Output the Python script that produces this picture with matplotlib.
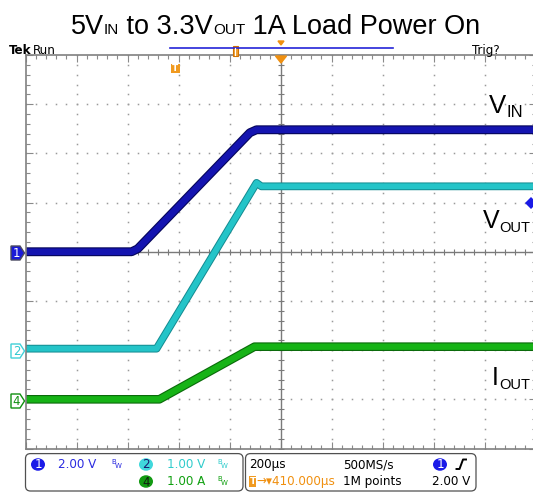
import numpy as np
import matplotlib
matplotlib.use('Agg')
import matplotlib.pyplot as plt
from matplotlib import font_manager
from matplotlib.patches import Polygon, Ellipse, FancyBboxPatch, Rectangle
from matplotlib.ticker import MultipleLocator
import matplotlib.patheffects as pe

# scope setup: 200 us/div, 10 div across, 8 div high
t_per_div = 200.0
ch1_scale, ch2_scale, ch4_scale = 2.0, 1.0, 1.0   # V/div, V/div, A/div
ch1_off, ch2_off, ch4_off = 0.0, -1.97, -3.0      # ground position in div

# traces, time in us from screen centre
t_vin = [-1000, -584, -560, -120, -94, 1000]
v_vin = [0.0, 0.0, 0.12, 4.84, 4.96, 4.96]
t_vout = [-1000, -486, -94, -75, 1000]
v_vout = [0.0, 0.0, 3.37, 3.30, 3.30]
t_iout = [-1000, -475, -102, 1000]
i_iout = [0.0, 0.0, 1.07, 1.07]

# readouts
ch_labels = ['2.00 V', '1.00 V', '1.00 A']
timebase = '200µs'
sample_rate = '500MS/s'
trig_pos = '→▾410.000µs'
record_len = '1M points'
trig_level = '2.00 V'

names = {f.name for f in font_manager.fontManager.ttflist}
narrow = 'Liberation Sans Narrow' if 'Liberation Sans Narrow' in names else 'Liberation Sans'
has_cond = any('Condensed' in f.fname and 'DejaVuSans' in f.fname
               for f in font_manager.fontManager.ttflist)
stat_kw = dict(family='DejaVu Sans', fontstretch='condensed', size=9.5) if has_cond \
    else dict(family='DejaVu Sans', size=8.3)

W, H = 533, 496
fig = plt.figure(figsize=(W / 100, H / 100), dpi=100)
fig.patch.set_facecolor('white')

# scope graticule
ax = fig.add_axes([25.5 / W, 47.5 / H, 510 / W, 393.5 / H])
ax.set_xlim(-5 * t_per_div, 5 * t_per_div)
ax.set_ylim(-4, 4)
ax.xaxis.set_major_locator(MultipleLocator(t_per_div))
ax.xaxis.set_minor_locator(MultipleLocator(t_per_div / 5))
ax.yaxis.set_major_locator(MultipleLocator(1))
ax.yaxis.set_minor_locator(MultipleLocator(0.2))
ax.tick_params(which='both', direction='in', top=True, right=True,
               labelbottom=False, labelleft=False, color='#8a8a8a', width=0.8)
ax.tick_params(which='major', length=5)
ax.tick_params(which='minor', length=3)
for s in ax.spines.values():
    s.set_color('#808080')
    s.set_linewidth(1.2)

gx, gy = [], []
ys = np.arange(-4, 4.001, 0.2)
for k in range(-4, 5):
    if k == 0:
        continue
    gx += [k * t_per_div] * len(ys)
    gy += list(ys)
xs = np.arange(-1000, 1000.1, t_per_div / 5)
for k in range(-3, 4):
    if k == 0:
        continue
    gx += list(xs)
    gy += [k] * len(xs)
ax.plot(gx, gy, ls='none', marker='s', ms=1.1, color='#9a9a9a', mew=0)

ax.axhline(0, color='#7a7a7a', lw=1.0)
ax.axvline(0, color='#7a7a7a', lw=1.0)
ax.plot(xs, np.zeros_like(xs), ls='none', marker='|', ms=5, color='#7a7a7a', mew=0.8)
ax.plot(np.zeros_like(ys), ys, ls='none', marker='_', ms=5, color='#7a7a7a', mew=0.8)


def to_div(vals, scale, off):
    return np.array(vals) / scale + off


ax.plot(t_iout, to_div(i_iout, ch4_scale, ch4_off), color='#16b316', lw=4.6,
        solid_joinstyle='round',
        path_effects=[pe.Stroke(linewidth=6.2, foreground='#0a6a0a'), pe.Normal()])
ax.plot(t_vout, to_div(v_vout, ch2_scale, ch2_off), color='#24c4c8', lw=4.2,
        solid_joinstyle='round',
        path_effects=[pe.Stroke(linewidth=5.6, foreground='#138a90'), pe.Normal()])
ax.plot(t_vin, to_div(v_vin, ch1_scale, ch1_off), color='#1414b0', lw=4.8,
        solid_joinstyle='round',
        path_effects=[pe.Stroke(linewidth=6.4, foreground='#05055a'), pe.Normal()])

# overlay in pixel units for the screen furniture
ov = fig.add_axes([0, 0, 1, 1], facecolor='none')
ov.set_xlim(0, W)
ov.set_ylim(H, 0)
ov.axis('off')

renderer = fig.canvas.get_renderer()


def runs(x, y, parts, ha='center', family='Liberation Sans', color='black'):
    objs = []
    for txt, size, dy in parts:
        t = ov.text(0, y + dy, txt, fontsize=size, family=family, color=color,
                    va='baseline', ha='left')
        objs.append(t)
    widths = [o.get_window_extent(renderer).width for o in objs]
    x0 = x - sum(widths) / 2 if ha == 'center' else x
    for o, w in zip(objs, widths):
        o.set_x(x0)
        x0 += w


runs(275.5, 34, [('5V', 19.5, 0), ('IN', 11, 0), (' to 3.3V', 19.5, 0),
                 ('OUT', 11, 0), (' 1A Load Power On', 19.5, 0)])

runs(489, 113, [('V', 18.5, 0), ('IN', 12, 4)], ha='left', family=narrow)
runs(482.5, 228, [('V', 18, 0), ('OUT', 10.5, 4)], ha='left', family=narrow)
runs(492, 385, [('I', 18, 0), ('OUT', 10.5, 4)], ha='left', family=narrow)

# header
ov.text(9, 54, 'Tek', fontsize=9.5, weight='bold', family='DejaVu Sans',
        fontstretch='condensed', va='baseline')
ov.text(33, 54, 'Run', va='baseline', **stat_kw)
ov.text(472, 54, 'Trig?', va='baseline', **stat_kw)
ov.plot([170, 393], [48.3, 48.3], color='#2424d8', lw=1.2)
ov.add_patch(Rectangle((232.5, 46), 5, 10, facecolor='#f0a030', edgecolor='#d07000', lw=0.8))
ov.plot([235, 235], [47.5, 54.5], color='white', lw=0.8)
ov.add_patch(Polygon([[278, 41], [284, 41], [281, 45]], color='#f09010'))
ov.add_patch(Polygon([[275.5, 56], [286.5, 56], [281, 63]], color='#f09010'))
ov.add_patch(Rectangle((171, 64), 9, 9, facecolor='#f09a20', edgecolor='none'))
ov.text(175.5, 68.8, 'T', fontsize=6.5, weight='bold', color='white', ha='center', va='center')

# trigger level marker
ov.plot([531], [203], marker='D', ms=6, color='#1a1ae6', mew=0)

# channel ground tags


def tag(yc, num, face, edge, txtc):
    pts = [[11, yc - 7], [20, yc - 7], [24.5, yc], [20, yc + 7], [11, yc + 7]]
    ov.add_patch(Polygon(pts, closed=True, facecolor=face, edgecolor=edge, lw=1.0, zorder=5))
    ov.text(16.5, yc + 0.5, num, fontsize=8.5, color=txtc, ha='center', va='center',
            family='DejaVu Sans', zorder=6)


tag(253, '1', '#1a1ad8', '#4a4a60', 'white')
tag(351, '2', 'white', '#40d0d8', '#30c8d0')
tag(401, '4', 'white', '#109010', '#109010')

# readout boxes
ov.add_patch(FancyBboxPatch((25.5, 453.6), 217.5, 37.4,
                            boxstyle='round,pad=0,rounding_size=5',
                            facecolor='white', edgecolor='#505050', lw=0.9))
ov.add_patch(FancyBboxPatch((245.5, 453.6), 230.5, 37.4,
                            boxstyle='round,pad=0,rounding_size=5',
                            facecolor='white', edgecolor='#505050', lw=0.9))

r1, r2 = 464.5, 481.5


def badge(x, y, num, face, txtc):
    ov.add_patch(Ellipse((x, y), 14, 12.5, facecolor=face, edgecolor='none'))
    ov.text(x, y + 0.5, num, color=txtc, ha='center', va='center', **stat_kw)


def bw(x, y, c):
    ov.text(x, y - 2.5, 'B', color=c, fontsize=5, ha='left', va='center')
    ov.text(x + 3.5, y + 1.5, 'W', color=c, fontsize=5, ha='left', va='center')


badge(38, r1, '1', '#1a1ae8', 'white')
ov.text(58, r1, ch_labels[0], color='#2a2ae0', va='center', **stat_kw)
bw(111, r1, '#2a2ae0')
badge(146, r1, '2', '#40d8dc', '#1a1a70')
ov.text(167, r1, ch_labels[1], color='#30cccc', va='center', **stat_kw)
bw(217, r1, '#30cccc')
badge(146, r2, '4', '#129a12', '#102010')
ov.text(167, r2, ch_labels[2], color='#10a010', va='center', **stat_kw)
bw(217, r2, '#10a010')

ov.text(249, r1, timebase, color='black', va='center', **stat_kw)
ov.text(343, r1, sample_rate, color='black', va='center', **stat_kw)
badge(440, r1, '1', '#1a1ae8', 'white')
ov.plot([456.5, 459.5, 463, 466], [469, 469, 459.5, 459.5], color='black', lw=1.4)

ov.add_patch(Rectangle((249, 476), 7, 11, facecolor='#f09a20', edgecolor='none'))
ov.text(252.5, r2, 'T', fontsize=6.5, weight='bold', color='white', ha='center', va='center')
ov.text(256.5, r2, trig_pos, color='#f09010', va='center', **stat_kw)
ov.text(343, r2, record_len, color='black', va='center', **stat_kw)
ov.text(470, r2, trig_level, color='black', va='center', ha='right', **stat_kw)

fig.savefig('out.png', dpi=100)
